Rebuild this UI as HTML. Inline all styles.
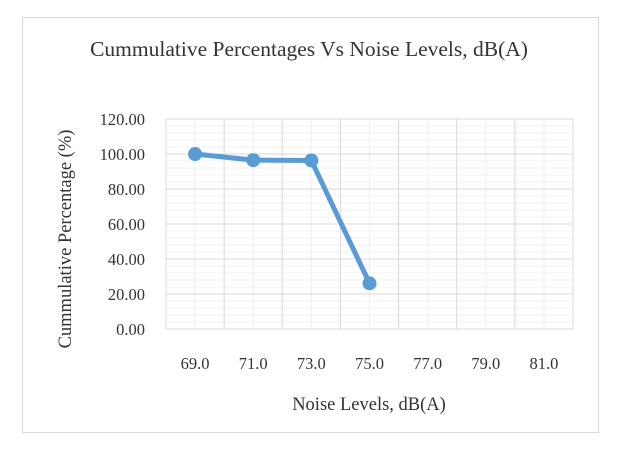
<!DOCTYPE html>
<html><head><meta charset="utf-8"><style>
body{margin:0;background:#fff;width:619px;height:448px;overflow:hidden}
svg{font-family:"Liberation Serif",serif}
</style></head><body>
<svg id="c" width="619" height="448">
<rect x="22.5" y="17.5" width="576" height="415" fill="#fff" stroke="#d9d9d9"/>
<text x="309" y="56" font-size="21.5" text-anchor="middle" fill="#333">Cummulative Percentages Vs Noise Levels, dB(A)</text>
<g id="grid"></g><g id="ticks"></g><g id="series"></g>
<text x="369" y="410" font-size="18.5" text-anchor="middle" fill="#333">Noise Levels,  dB(A)</text>
<text transform="translate(71,239) rotate(-90)" font-size="18.5" text-anchor="middle" fill="#333">Cummulative Percentage (%)</text>
</svg>
<script>
const categories=["69.0","71.0","73.0","75.0","77.0","79.0","81.0"];
const values=[100,96.5,96.3,26.1];
const yTicks=[0,20,40,60,80,100,120];
const L=166,R=573,T=119,B=329,yMax=120;
const bw=(R-L)/categories.length;
const xs=i=>L+bw*(i+0.5);
const ys=v=>B-(v/yMax)*(B-T);
const NS="http://www.w3.org/2000/svg";
function mk(p,tag,a){const e=document.createElementNS(NS,tag);for(const k in a)e.setAttribute(k,a[k]);document.getElementById(p).appendChild(e);return e;}
for(let v=0;v<=yMax;v+=4){if(v%20===0)continue;const l=mk("grid","line",{x1:L,x2:R,y1:ys(v),y2:ys(v),stroke:"#f0f0f0"});

}
categories.forEach((c,i)=>{const l=mk("grid","line",{x1:xs(i),x2:xs(i),y1:T,y2:B,stroke:"#f0f0f0"});

});
for(let i=0;i<=categories.length;i++){const x=L+bw*i;const l=mk("grid","line",{x1:x,x2:x,y1:T,y2:B,stroke:"#d9d9d9"});

}
yTicks.forEach(v=>{const l=mk("grid","line",{x1:L,x2:R,y1:ys(v),y2:ys(v),stroke:"#d9d9d9"});


const t=mk("ticks","text",{x:145,y:ys(v)+6,"font-size":16.5,"text-anchor":"end",fill:"#333"});t.textContent=v.toFixed(2);

});
categories.forEach((c,i)=>{const t=mk("ticks","text",{x:xs(i),y:369,"font-size":16.5,"text-anchor":"middle",fill:"#333"});t.textContent=c;

});
const pl=mk("series","polyline",{points:values.map((v,i)=>xs(i)+","+ys(v)).join(" "),fill:"none",stroke:"#5b9bd5","stroke-width":5,"stroke-linejoin":"round"});


values.forEach((v,i)=>{const c=mk("series","circle",{cx:xs(i),cy:ys(v),r:7,fill:"#5b9bd5"});

});
</script>
</body></html>
